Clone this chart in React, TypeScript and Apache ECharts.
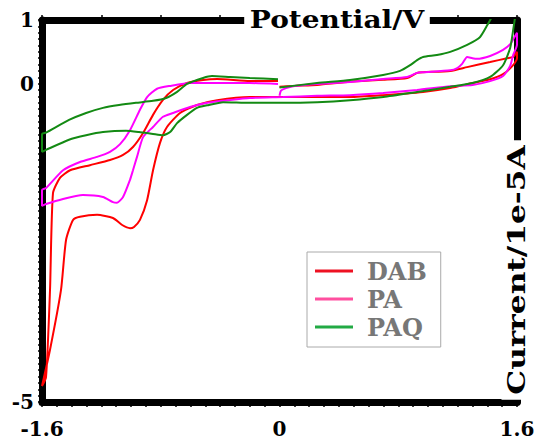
import React, { useEffect, useRef } from "react";
import * as echarts from "echarts";

const seriesNames = ["DAB", "PA", "PAQ"];
const lineColors = ["#ff0000", "#ff00ff", "#138a13"];
const legendColors = ["#ee1122", "#ff4f9f", "#22aa44"];

const xTickLabels = [-1.6, 0, 1.6];
const yTickLabels = [-5, 0, 1];

// DAB
const dabForward = [[0,-0.05],[0.1,-0.035],[0.253,-0.02],[0.475,0.03],[0.698,0.06],[0.86,0.09],[0.927,0.17],[0.967,0.18],[1.15,0.2],[1.264,0.26],[1.419,0.34],[1.533,0.4],[1.574,0.42],[1.6,0.5]];
const dabReverse = [[1.6,0.4],[1.574,0.29],[1.506,0.15],[1.419,0.07],[1.3,0.01],[1.15,-0.07],[0.967,-0.13],[0.698,-0.18],[0.475,-0.21],[0.253,-0.21],[0.024,-0.21],[-0.2,-0.21],[-0.42,-0.26],[-0.556,-0.335],[-0.67,-0.46],[-0.758,-0.68],[-0.805,-0.93],[-0.852,-1.36],[-0.892,-1.83],[-0.94,-2.14],[-0.98,-2.25],[-1.007,-2.27],[-1.06,-2.22],[-1.122,-2.11],[-1.229,-2.06],[-1.344,-2.09],[-1.391,-2.14],[-1.438,-2.455],[-1.472,-3.24],[-1.546,-4.18],[-1.6,-4.75]];
const dabReturn = [[-1.6,-4.75],[-1.573,-4.61],[-1.546,-3.24],[-1.526,-1.72],[-1.479,-1.48],[-1.411,-1.36],[-1.277,-1.28],[-1.142,-1.2],[-1.054,-1.12],[-0.987,-0.995],[-0.919,-0.775],[-0.852,-0.49],[-0.785,-0.256],[-0.717,-0.1],[-0.623,0.01],[-0.515,0.058],[-0.42,0.073],[-0.2,0.04],[-0.01,0.04]];

// PA
const paForward = [[0,-0.19],[0.01,-0.11],[0.044,-0.07],[0.09,-0.04],[0.253,-0.005],[0.475,0.026],[0.698,0.073],[0.86,0.105],[0.927,0.17],[0.967,0.18],[1.15,0.21],[1.197,0.245],[1.23,0.31],[1.264,0.42],[1.3,0.4],[1.33,0.39],[1.419,0.435],[1.506,0.53],[1.554,0.62],[1.58,0.72],[1.6,0.8]];
const paReverse = [[1.6,0.61],[1.574,0.45],[1.554,0.28],[1.506,0.12],[1.419,0.04],[1.3,-0.02],[1.15,-0.04],[0.927,-0.1],[0.698,-0.147],[0.475,-0.18],[0.253,-0.19],[0.024,-0.21],[-0.2,-0.225],[-0.333,-0.256],[-0.488,-0.3],[-0.603,-0.366],[-0.717,-0.46],[-0.785,-0.52],[-0.852,-0.68],[-0.919,-0.84],[-0.96,-1.15],[-0.987,-1.36],[-1.007,-1.51],[-1.054,-1.78],[-1.095,-1.87],[-1.122,-1.86],[-1.189,-1.78],[-1.324,-1.75],[-1.458,-1.81],[-1.573,-1.89],[-1.6,-1.92]];
const paReturn = [[-1.6,-1.67],[-1.573,-1.64],[-1.458,-1.36],[-1.344,-1.23],[-1.229,-1.15],[-1.142,-1.07],[-1.074,-0.95],[-1.007,-0.73],[-0.94,-0.41],[-0.892,-0.21],[-0.825,-0.08],[-0.737,-0.035],[-0.603,0.01],[-0.42,0.01],[-0.2,0.01],[-0.01,-0.005]];

// PAQ
const paqForward = [[0,-0.06],[0.253,0.01],[0.475,0.058],[0.698,0.136],[0.812,0.2],[0.88,0.29],[0.927,0.37],[0.967,0.42],[1.06,0.45],[1.15,0.5],[1.264,0.61],[1.35,0.73],[1.4,0.92],[1.45,1.12],[1.6,1.5]];
const paqReverse = [[1.6,1.5],[1.59,1.1],[1.574,0.84],[1.554,0.56],[1.506,0.29],[1.419,0.105],[1.3,0.01],[1.15,-0.05],[0.927,-0.13],[0.7,-0.21],[0.475,-0.26],[0.253,-0.29],[0.024,-0.3],[-0.2,-0.3],[-0.38,-0.29],[-0.488,-0.34],[-0.556,-0.38],[-0.623,-0.49],[-0.69,-0.62],[-0.737,-0.76],[-0.785,-0.81],[-0.852,-0.79],[-0.946,-0.76],[-1.034,-0.74],[-1.189,-0.76],[-1.303,-0.81],[-1.418,-0.88],[-1.573,-1.04],[-1.6,-1.07]];
const paqReturn = [[-1.6,-0.79],[-1.573,-0.77],[-1.418,-0.57],[-1.303,-0.46],[-1.189,-0.38],[-1.081,-0.335],[-0.967,-0.3],[-0.852,-0.27],[-0.764,-0.225],[-0.69,-0.13],[-0.623,-0.005],[-0.515,0.09],[-0.455,0.12],[-0.333,0.105],[-0.2,0.09],[-0.01,0.07]];

const seriesData = [
  [...dabForward, ...dabReverse, ...dabReturn],
  [...paForward, ...paReverse, ...paReturn],
  [...paqForward, ...paqReverse, ...paqReturn],
];

const FONT = "DejaVu Serif";

function near(v: number, list: number[]) {
  return list.some((t) => Math.abs(v - t) < 1e-6);
}

export default function App() {
  const ref = useRef<HTMLDivElement>(null);
  useEffect(() => {
    if (!ref.current) return;
    const chart = echarts.init(ref.current, null, { renderer: "svg" });
    const axisLine = { show: true, onZero: false, lineStyle: { color: "#000", width: 7 } };
    const tickStyle = { color: "#000", width: 1.5 };
    const labelStyle = { fontFamily: FONT, fontWeight: "bold" as const, fontSize: 20, color: "#000" };
    chart.setOption({
      animation: false,
      backgroundColor: "#fff",
      grid: { left: 42, right: 24, top: 20, bottom: 38, containLabel: false },
      xAxis: [
        {
          type: "value", position: "bottom", min: -1.6, max: 1.6, interval: 0.1,
          axisLine, splitLine: { show: false },
          axisTick: { show: true, length: 5, lineStyle: tickStyle },
          axisLabel: {
            ...labelStyle, margin: 17, showMinLabel: true, showMaxLabel: true,
            formatter: (v: number) => (near(v, xTickLabels) ? String(Math.round(v * 10) / 10) : ""),
          },
        },
        {
          type: "value", position: "top", min: -1.6, max: 1.6, interval: 0.4,
          axisLine, splitLine: { show: false },
          axisTick: { show: true, length: 5, lineStyle: tickStyle },
          axisLabel: { show: false },
        },
      ],
      yAxis: [
        {
          type: "value", position: "left", min: -5, max: 1, interval: 0.1,
          axisLine, splitLine: { show: false },
          axisTick: { show: true, length: 4, lineStyle: tickStyle },
          axisLabel: {
            ...labelStyle, margin: 8, showMinLabel: true, showMaxLabel: true,
            formatter: (v: number) => (near(v, yTickLabels) ? String(Math.round(v)) : ""),
          },
        },
        {
          type: "value", position: "right", min: -5, max: 1, interval: 0.1,
          axisLine, splitLine: { show: false },
          axisTick: { show: true, length: 4, lineStyle: tickStyle },
          axisLabel: { show: false },
        },
      ],
      legend: {
        show: true, orient: "vertical", left: 307, top: 252,
        padding: [7, 14, 8, 8], itemGap: 4, itemWidth: 38, itemHeight: 3,
        borderColor: "#aaa", borderWidth: 1, backgroundColor: "#fff",
        textStyle: { fontFamily: FONT, fontWeight: "bold", fontSize: 24, color: "#777", lineHeight: 24, padding: [0, 0, 0, 9] },
        data: seriesNames.map((n, i) => ({
          name: n, icon: "rect",
          itemStyle: { color: legendColors[i] },
        })),
        itemStyle: { borderWidth: 0 },
      },
      series: seriesNames.map((n, i) => ({
        name: n, type: "line", data: seriesData[i], symbol: "none",
        smooth: 0.2, clip: true,
        lineStyle: { color: lineColors[i], width: 2 },
        itemStyle: { color: lineColors[i] },
        z: 2,
      })),
      graphic: [
        {
          type: "text", x: 337, y: 19, z: 100, scaleX: 1.12,
          style: {
            text: "Potential/V", fontFamily: FONT, fontWeight: "bold", fontSize: 25,
            fill: "#000", align: "center", verticalAlign: "middle",
            backgroundColor: "#fff", padding: [2, 5, 2, 5],
          },
        },
        {
          type: "text", x: 516, y: 270, rotation: Math.PI / 2, z: 100, scaleX: 1.25,
          style: {
            text: "Current/1e-5A", fontFamily: FONT, fontWeight: "bold", fontSize: 25,
            fill: "#000", align: "center", verticalAlign: "middle",
            backgroundColor: "#fff", padding: [2, 4, 2, 4],
          },
        },
      ],
    });
    return () => chart.dispose();
  }, []);
  return <div ref={ref} style={{ position: "fixed", left: 0, top: 0, width: 541, height: 440 }} />;
}
